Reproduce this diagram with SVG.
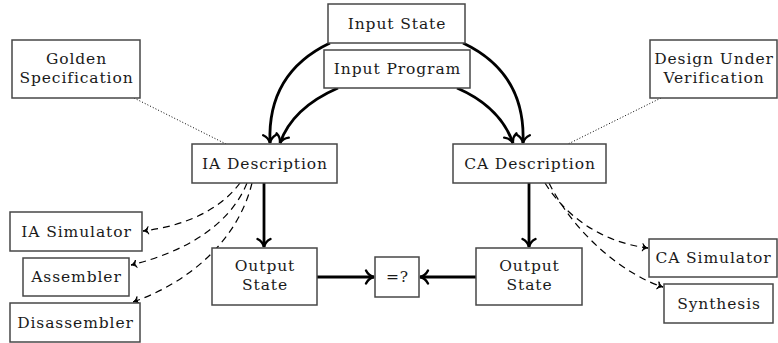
<svg xmlns="http://www.w3.org/2000/svg" width="778" height="343" viewBox="0 0 778 343">
<defs>
<style>
.box{fill:#fff;stroke:#474747;stroke-width:1.5}
.t{font-family:"DejaVu Serif","Liberation Serif",serif;font-size:15.5px;fill:#1a1a1a;text-anchor:middle;letter-spacing:0.9px}
.thick{fill:none;stroke:#000;stroke-width:2.8}
.dash{fill:none;stroke:#000;stroke-width:1.2;stroke-dasharray:7,5}
.dot{fill:none;stroke:#000;stroke-width:1;stroke-dasharray:1,2}
</style>
<marker id="ah" markerUnits="userSpaceOnUse" markerWidth="20" markerHeight="20" viewBox="-10 -10 20 20" refX="0" refY="0" orient="auto">
<path d="M-8,-6.5 C-6,-2.5 -2.5,-0.6 0,0 C-2.5,0.6 -6,2.5 -8,6.5" fill="none" stroke="#000" stroke-width="2.4" stroke-linecap="round"/>
</marker>
<marker id="ahs" markerUnits="userSpaceOnUse" markerWidth="14" markerHeight="14" viewBox="-7 -7 14 14" refX="0" refY="0" orient="auto">
<path d="M-5.5,-3.8 C-4,-1.6 -2,-0.4 0,0 C-2,0.4 -4,1.6 -5.5,3.8 L-4,0 Z" fill="#000" stroke="#000" stroke-width="0.9" stroke-linejoin="round"/>
</marker>
</defs>

<g id="connectors">
<path class="thick" d="M330,43 C290,62 268,95 270,143" marker-end="url(#ah)"/>
<path class="thick" d="M338,88 C315,98 290,115 280,143" marker-end="url(#ah)"/>
<path class="thick" d="M463,43 C503,62 525,95 523,143" marker-end="url(#ah)"/>
<path class="thick" d="M457,88 C480,98 503,115 513,143" marker-end="url(#ah)"/>
<path class="thick" d="M264,183 L264,247" marker-end="url(#ah)"/>
<path class="thick" d="M529,183 L529,247" marker-end="url(#ah)"/>
<path class="thick" d="M317,277 L374,277" marker-end="url(#ah)"/>
<path class="thick" d="M476,277 L420,277" marker-end="url(#ah)"/>
<path class="dot" d="M134,98 L226,144"/>
<path class="dot" d="M661,98 L568,144"/>
<path class="dash" d="M240,183 C220,210 185,226 143,231" marker-end="url(#ahs)"/>
<path class="dash" d="M247,183 C230,225 185,252 131,265" marker-end="url(#ahs)"/>
<path class="dash" d="M252,183 C238,240 190,282 133,302" marker-end="url(#ahs)"/>
<path class="dash" d="M545,183 C565,215 600,242 648,248" marker-end="url(#ahs)"/>
<path class="dash" d="M549,183 C575,235 625,275 663,287" marker-end="url(#ahs)"/>
</g>

<g id="input-state"><rect class="box" x="328" y="4" width="137" height="39"/><text class="t" x="397" y="29">Input State</text></g>
<g id="input-program"><rect class="box" x="324" y="50" width="146" height="38"/><text class="t" x="397.5" y="74">Input Program</text></g>
<g id="golden-spec"><rect class="box" x="12" y="40" width="128" height="58"/><text class="t" x="76.5" y="64">Golden</text><text class="t" x="76.5" y="83">Specification</text></g>
<g id="duv"><rect class="box" x="650" y="40" width="127" height="58"/><text class="t" x="714" y="64">Design Under</text><text class="t" x="714" y="83">Verification</text></g>
<g id="ia-desc"><rect class="box" x="192" y="144" width="145" height="39"/><text class="t" x="265" y="169">IA Description</text></g>
<g id="ca-desc"><rect class="box" x="453" y="144" width="153" height="39"/><text class="t" x="530" y="169">CA Description</text></g>
<g id="ia-sim"><rect class="box" x="10" y="212" width="132" height="39"/><text class="t" x="76.5" y="237">IA Simulator</text></g>
<g id="assembler"><rect class="box" x="23" y="258" width="106" height="38"/><text class="t" x="76.5" y="282">Assembler</text></g>
<g id="disassembler"><rect class="box" x="10" y="303" width="130" height="39"/><text class="t" x="75.5" y="328">Disassembler</text></g>
<g id="output-ia"><rect class="box" x="212" y="248" width="105" height="57"/><text class="t" x="265" y="271">Output</text><text class="t" x="265" y="290">State</text></g>
<g id="compare"><rect class="box" x="375" y="257" width="44" height="40"/><text class="t" x="397.5" y="282">=?</text></g>
<g id="output-ca"><rect class="box" x="476" y="248" width="106" height="57"/><text class="t" x="529.5" y="271">Output</text><text class="t" x="529.5" y="290">State</text></g>
<g id="ca-sim"><rect class="box" x="649" y="239" width="128" height="38"/><text class="t" x="713.5" y="263">CA Simulator</text></g>
<g id="synthesis"><rect class="box" x="664" y="284" width="109" height="39"/><text class="t" x="719" y="309">Synthesis</text></g>
</svg>
